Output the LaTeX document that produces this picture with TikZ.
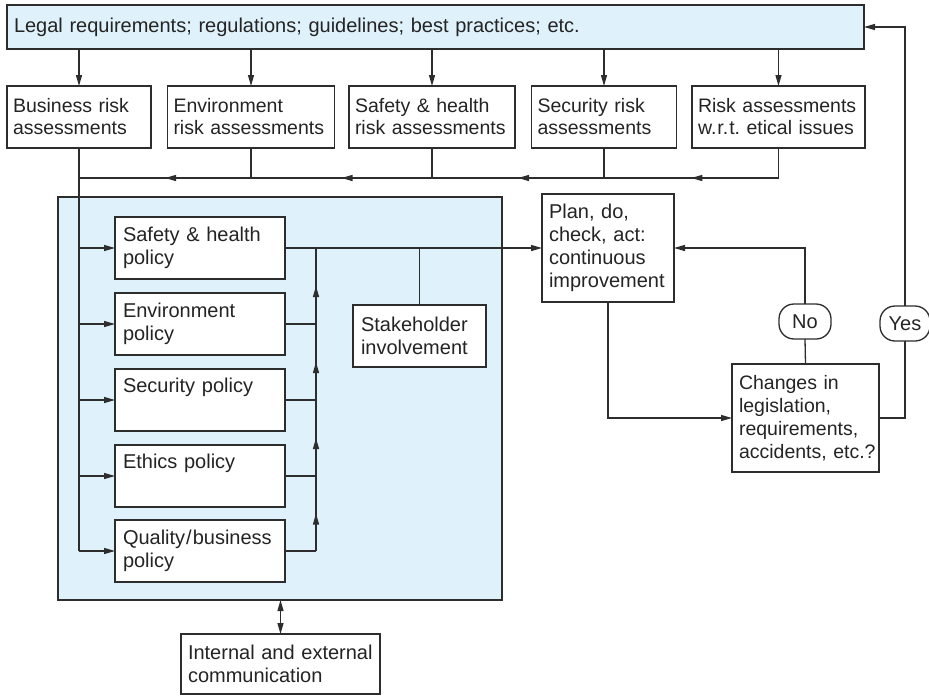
\documentclass[tikz,border=0pt]{standalone}
\usepackage{fontspec}
\setmainfont{Liberation Sans}
\usetikzlibrary{arrows.meta,decorations.markings}
\definecolor{ink}{RGB}{45,45,45}
\definecolor{panel}{RGB}{223,241,251}
\begin{document}
\begin{tikzpicture}[x=1pt,y=-1pt,
  every node/.style={inner sep=0pt, outer sep=0pt},
  ah/.tip={Triangle[length=11pt,width=6pt]},
  box/.style={draw=ink, fill=white, line width=1.3pt, text=ink!80!black, align=left,
    font=\fontsize{20}{23}\selectfont,
    execute at begin node={\hyphenpenalty=10000\exhyphenpenalty=10000\relax}},
  rowbox/.style={box, minimum height=62pt, font=\fontsize{19.5}{22}\selectfont},
  polbox/.style={box, minimum width=170pt, minimum height=62pt, text width=154pt},
  flag/.style={draw=ink, fill=white, line width=1.3pt, rounded corners=15pt,
    minimum height=35pt, text=ink!80!black, font=\fontsize{20}{23}\selectfont},
  conn/.style={draw=ink, line width=1.3pt},
  arr/.style={conn, -ah},
  midarrow/.style={postaction={decorate}, decoration={markings,
    mark=at position 0.5 with {\arrow{ah}}}}
]
\useasboundingbox (0,0) rectangle (929,696);

% policy panel
\node[draw=ink, fill=panel, line width=1.3pt, minimum width=444pt, minimum height=403pt]
  (pbox) at (280,398.5) {};

% sources of requirements
\node[box, fill=panel, minimum width=857pt, minimum height=44pt, text width=843pt]
  (top) at (435.5,27) {Legal requirements; regulations; guidelines; best practices; etc.};

% risk assessments
\node[rowbox, minimum width=144pt, text width=132pt] (biz) at (79,117) {Business~risk\\assessments};
\node[rowbox, minimum width=167pt, text width=155pt] (env) at (251,117) {Environment\\risk~assessments};
\node[rowbox, minimum width=166pt, text width=154pt] (shr) at (432,117) {Safety~\&~health\\risk~assessments};
\node[rowbox, minimum width=145pt, text width=133pt] (sec) at (604,117) {Security~risk\\assessments};
\node[rowbox, minimum width=173pt, text width=161pt] (eth) at (778.5,117) {Risk~assessments\\w.\kern1pt r.\kern1pt t.~etical~issues};

% policies
\node[polbox] (shp) at (200,248) {Safety~\&~health\\policy};
\node[polbox] (envp) at (200,324) {Environment\\policy};
\node[polbox] (secp) at (200,400) {Security~policy\\\strut};
\node[polbox] (ethp) at (200,476) {Ethics~policy\\\strut};
\node[polbox] (qbp) at (200,551) {Quality\kern1pt/\kern1pt business\\policy};

\node[box, minimum width=133pt, minimum height=62pt, text width=117pt]
  (stake) at (419.5,336) {Stakeholder\\involvement};
\node[box, minimum width=132pt, minimum height=108pt, text width=118pt]
  (plan) at (608,248) {Plan,~do,\\check,~act:\\continuous\\improvement};
\node[box, minimum width=147pt, minimum height=108pt, text width=133pt,
  font=\fontsize{19.5}{23}\selectfont]
  (chg) at (805.5,418) {Changes~in\\legislation,\\requirements,\\\mbox{accidents, etc.?}};
\node[box, minimum width=199pt, minimum height=60pt, text width=185pt]
  (comm) at (280.5,664) {\mbox{Internal and external}\\communication};

% decision flags
\node[flag, minimum width=52pt] (no) at (805,321.5) {No};
\node[flag, minimum width=50pt] (yes) at (905,323.5) {Yes};

% requirements feed the assessments
\foreach \n in {biz,env,shr,sec,eth}
  \draw[arr] (top.south -| \n.north) -- (\n.north);

% collecting bus under the assessments
\coordinate (hbus) at (0,178);
\coordinate (jE) at (eth.south |- hbus);
\coordinate (jS) at (sec.south |- hbus);
\coordinate (jH) at (shr.south |- hbus);
\coordinate (jV) at (env.south |- hbus);
\coordinate (jB) at (biz.south |- hbus);
\draw[conn] (eth.south) -- (jE);
\draw[conn] (sec.south) -- (jS);
\draw[conn] (shr.south) -- (jH);
\draw[conn] (env.south) -- (jV);
\draw[conn, midarrow] (jE) -- (jS);
\draw[conn, midarrow] (jS) -- (jH);
\draw[conn, midarrow] (jH) -- (jV);
\draw[conn, midarrow] (jV) -- (jB);

% distribution to the policies
\draw[conn] (biz.south) -- (biz.south |- qbp.west);
\foreach \p in {shp,envp,secp,ethp,qbp}
  \draw[arr] (biz.south |- \p.west) -- (\p.west);

% policies gathered on the right
\coordinate (rbus) at (316,0);
\foreach \p in {envp,secp,ethp,qbp}
  \draw[conn] (\p.east) -- (rbus |- \p.east);
\draw[conn, midarrow] (rbus |- qbp.east) -- (rbus |- ethp.east);
\draw[conn, midarrow] (rbus |- ethp.east) -- (rbus |- secp.east);
\draw[conn, midarrow] (rbus |- secp.east) -- (rbus |- envp.east);
\draw[conn, midarrow] (rbus |- envp.east) -- (rbus |- shp.east);
\draw[arr] (shp.east) -- (plan.west);
\draw[conn] (stake.north) -- (stake.north |- shp.east);

% improvement loop
\draw[arr] (plan.south) |- (chg.west);
\draw[conn] (chg.north) -- (no.south);
\draw[arr] (no.north) |- (plan.east);
\draw[conn] (chg.east) -| (yes.south);
\draw[arr] (yes.north) |- (top.east);

% communication
\draw[conn, ah-ah] (pbox.south -| comm.north) -- (comm.north);
\end{tikzpicture}
\end{document}
